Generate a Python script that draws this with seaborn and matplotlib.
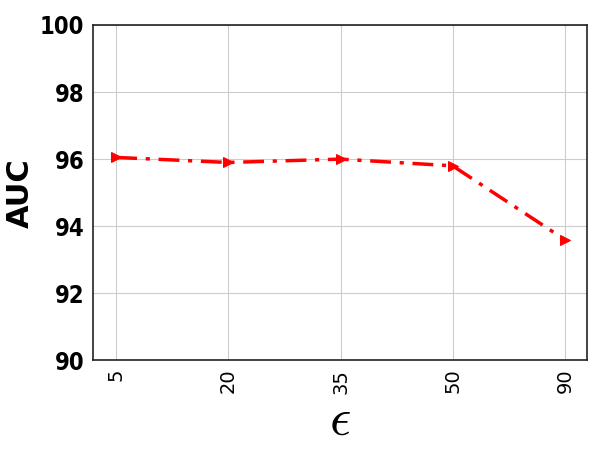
import matplotlib
matplotlib.use('Agg')
import matplotlib.pyplot as plt
import seaborn as sns
import pandas as pd
import numpy as np

# values
eps_labels = ['5', '20', '35', '50', '90']
auc = [96.05, 95.9, 96.0, 95.8, 93.6]
y_ticks = [90, 92, 94, 96, 98, 100]

sns.set_style('whitegrid')
plt.rcParams['font.family'] = ['DejaVu Sans']
plt.rcParams['mathtext.fontset'] = 'cm'
plt.rcParams['text.color'] = 'black'
plt.rcParams['axes.labelcolor'] = 'black'
plt.rcParams['xtick.color'] = 'black'
plt.rcParams['ytick.color'] = 'black'

df = pd.DataFrame({'idx': np.arange(len(eps_labels)), 'AUC': auc})

fig, ax = plt.subplots(figsize=(5.98, 4.62), dpi=100)
sns.lineplot(data=df, x='idx', y='AUC', ax=ax, color='red', linestyle='-.',
             linewidth=2.5, marker='>', markersize=7, markeredgecolor='red')
ax.lines[0].set_dashes([6, 2.5, 1.2, 2.5])

ax.set_xlim(-0.21, 4.2)
ax.set_ylim(90, 100)
ax.set_xticks(df['idx'])
ax.set_xticklabels(eps_labels, rotation=90, fontsize=14)
ax.set_yticks(y_ticks)
ax.set_yticklabels([str(t) for t in y_ticks], fontsize=17, fontweight='bold',
                   fontstretch='condensed',
                   family=['DejaVu Sans Condensed', 'DejaVu Sans'])
ax.set_xlabel(r'$\mathbf{\epsilon}$', fontsize=38, labelpad=0)
ax.set_ylabel('AUC', fontsize=22, fontweight='bold')

ax.grid(True, color='#cccccc', linewidth=0.8)
for s in ax.spines.values():
    s.set_visible(True)
    s.set_color('#222222')
    s.set_linewidth(1.2)
ax.tick_params(axis='both', which='both', length=4, color='#222222', pad=2)

fig.subplots_adjust(left=0.155, right=0.982, top=0.946, bottom=0.22)
fig.savefig('out.png', dpi=100)
